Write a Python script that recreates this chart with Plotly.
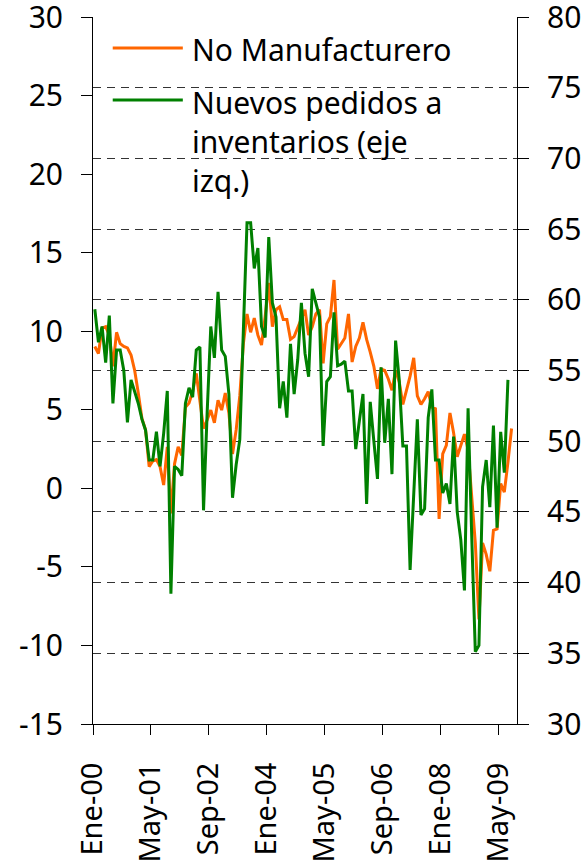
import plotly.graph_objects as go

# ---------------- data ----------------
x_tick_months = [0, 16, 32, 48, 64, 80, 96, 112]
x_tick_labels = ["Ene-00", "May-01", "Sep-02", "Ene-04", "May-05", "Sep-06", "Ene-08", "May-09"]

left_tick_vals = [-15, -10, -5, 0, 5, 10, 15, 20, 25, 30]
left_tick_text = ["-15", "-10", "-5", "0", "5", "10", "15", "20", "25", "30"]
right_tick_vals = [30, 35, 40, 45, 50, 55, 60, 65, 70, 75, 80]
right_tick_text = ["30", "35", "40", "45", "50", "55", "60", "65", "70", "75", "80"]

# Nuevos pedidos a inventarios (left axis), monthly from Ene-00
nuevos_pedidos = [
    11.4, 9.3, 10.3, 8.0, 11.0, 5.4, 8.8, 8.8, 7.5, 4.2,
    6.9, 6.2, 5.4, 4.4, 3.7, 1.8, 1.8, 3.6, 1.4, 3.5,
    6.2, -6.7, 1.4, 1.2, 0.8, 5.4, 6.4, 5.8, 8.8, 9.0,
    -1.4, 4.8, 10.3, 8.3, 12.5, 8.8, 8.4, 6.0, -0.6, 1.5,
    3.1, 10.1, 16.9, 16.9, 14.0, 15.3, 10.3, 9.6, 16.0, 11.8,
    10.9, 5.1, 6.8, 4.5, 9.2, 6.0, 8.2, 11.8, 8.6, 7.1,
    12.7, 11.8, 10.9, 2.7, 6.8, 7.1, 11.2, 7.8, 7.9, 8.1,
    6.2, 6.2, 2.5, 4.3, 6.0, -1.0, 5.5, 3.0, 0.6, 7.7,
    2.9, 5.7, 0.9, 9.4, 6.9, 2.7, 2.7, -5.2, -0.5, 4.4,
    -1.7, -1.3, 4.5, 6.3, 1.8, 1.8, -0.3, 0.3, -1.0, 3.3,
    -1.5, -3.3, -6.5, 5.1, -3.0, -10.4, -10.0, 0.1, 1.8, -1.2,
    4.0, -2.5, 3.6, 1.0, 6.9,
]

# No Manufacturero (right axis), monthly from Ene-00
no_manufacturero = [
    56.7, 56.2, 58.0, 58.1, 57.5, 55.3, 57.7, 56.9, 56.7, 56.6,
    56.1, 55.0, 53.4, 51.6, 50.8, 48.2, 48.6, 48.7, 48.2, 46.9,
    49.6, 44.9, 48.4, 49.6, 49.0, 52.4, 52.7, 53.5, 54.8, 53.0,
    50.9, 51.5, 52.2, 51.3, 52.9, 52.2, 53.4, 52.0, 49.1, 50.8,
    53.2, 56.9, 59.0, 57.7, 58.7, 57.5, 56.8, 58.8, 61.2, 58.1,
    59.3, 59.5, 58.6, 58.6, 57.2, 57.4, 58.0, 58.6, 59.3, 57.5,
    58.1, 59.0, 59.3, 55.5, 58.3, 58.8, 61.4, 56.5, 56.9, 57.3,
    59.0, 55.6, 56.7, 57.3, 58.4, 57.2, 56.3, 55.3, 53.7, 55.1,
    55.0, 54.4, 53.6, 55.0, 54.2, 52.6, 53.6, 54.6, 55.9, 53.2,
    52.6, 53.0, 53.5, 52.4, 52.3, 44.5, 49.1, 49.7, 52.0, 50.6,
    48.9, 49.7, 50.5, 49.4, 46.3, 42.8, 37.4, 42.8, 42.0, 40.8,
    43.7, 43.8, 47.0, 46.4, 48.5, 50.9,
]

series_names = ["No Manufacturero", "Nuevos pedidos a<br>inventarios (eje<br>izq.)"]

# month slot centres (each month occupies one unit on the axis)
x_nm = [i + 0.5 for i in range(len(no_manufacturero))]
x_np = [i + 0.5 for i in range(len(nuevos_pedidos))]

ORANGE = "#FF6600"
GREEN = "#008000"
FONT = "Noto Sans"

fig = go.Figure()
fig.add_trace(go.Scatter(x=x_nm, y=no_manufacturero, mode="lines", yaxis="y",
                         line=dict(color=ORANGE, width=3), name="No Manufacturero"))
fig.add_trace(go.Scatter(x=x_np, y=nuevos_pedidos, mode="lines", yaxis="y2",
                         line=dict(color=GREEN, width=3), name="Nuevos pedidos a inventarios (eje izq.)"))

fig.update_layout(
    width=582, height=862,
    margin=dict(l=93, r=65, t=17, b=138, autoexpand=False),
    paper_bgcolor="white", plot_bgcolor="white",
    showlegend=False,
    font=dict(family=FONT, size=30, color="black"),
    xaxis=dict(range=[0, 117], tickmode="array", tickvals=x_tick_months, ticktext=x_tick_labels,
               tickangle=-90, ticks="outside", ticklen=10, tickcolor="black", tickwidth=1,
               tickfont=dict(size=29),
               showline=True, linecolor="black", linewidth=1, showgrid=False, zeroline=False,
               ticklabelstandoff=16, ticklabeloverflow="allow"),
    yaxis=dict(side="right", range=[30, 80], tickmode="array", tickvals=right_tick_vals,
               ticktext=right_tick_text, ticks="outside", ticklen=11, tickcolor="black",
               showline=True, linecolor="black", linewidth=1,
               showgrid=True, gridcolor="#333333", gridwidth=1, griddash="8px,6px",
               zeroline=False, ticklabelstandoff=12, ticklabeloverflow="allow"),
    yaxis2=dict(side="left", overlaying="y", range=[-15, 30], tickmode="array",
                tickvals=left_tick_vals, ticktext=left_tick_text, ticks="outside", ticklen=11,
                tickcolor="black", showline=True, linecolor="black", linewidth=1,
                showgrid=False, zeroline=False, ticklabelstandoff=12,
                ticklabeloverflow="allow"),
)

# manual legend (plot area: x 93..517 px, y 17..724 px)
def px_x(px):
    return (px - 93.3) / 423.4

def px_y(py):
    return (724 - py) / 707.0

fig.add_shape(type="line", xref="paper", yref="paper", x0=px_x(113), x1=px_x(183),
              y0=px_y(48), y1=px_y(48), line=dict(color=ORANGE, width=3))
fig.add_shape(type="line", xref="paper", yref="paper", x0=px_x(113), x1=px_x(183),
              y0=px_y(100), y1=px_y(100), line=dict(color=GREEN, width=3))
fig.add_annotation(xref="paper", yref="paper", x=px_x(190), y=px_y(50), xanchor="left",
                   yanchor="middle", text=series_names[0], showarrow=False,
                   font=dict(family=FONT, size=30, color="black"), align="left")
fig.add_annotation(xref="paper", yref="paper", x=px_x(190), y=px_y(80), xanchor="left",
                   yanchor="top", text=series_names[1], showarrow=False,
                   font=dict(family=FONT, size=30, color="black"), align="left")

fig.write_html("out.html", config={"displayModeBar": False},
               post_script="document.body.style.margin='0';")
